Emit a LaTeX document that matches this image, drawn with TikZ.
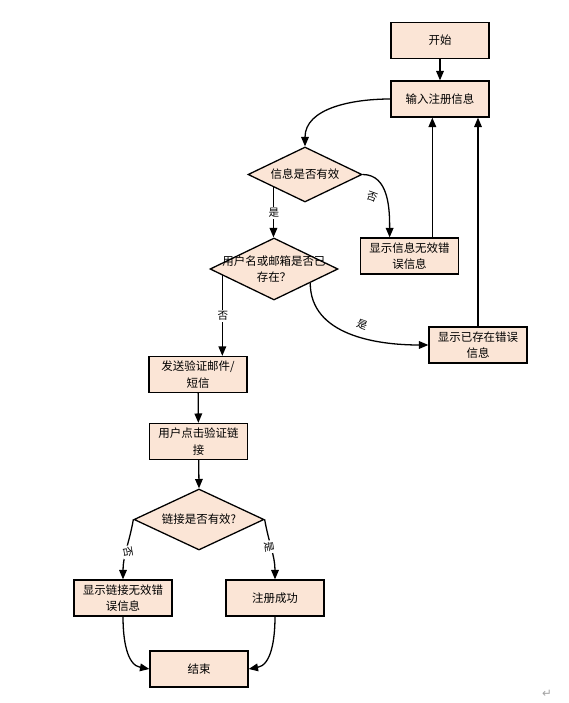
\documentclass[tikz,border=0pt]{standalone}
\usepackage{fontspec}
\setmainfont{Noto Sans CJK SC}
\newfontfamily\symfont{DejaVu Sans}
\usepackage{tikz}
\usetikzlibrary{arrows.meta,positioning,shapes.geometric,calc}
\definecolor{peach}{HTML}{FBE5D6}
\definecolor{bk50}{HTML}{A2A2A2}
\tikzset{
  stepbox/.style={
    rectangle, draw=black, fill=peach, line width=1.1pt,
    minimum width=2.94cm, minimum height=1.08cm,
    font=\fontsize{9.8}{14}\selectfont, align=center,
    inner sep=2pt
  },
  decision/.style={
    diamond, draw=black, fill=peach, line width=1.1pt,
    inner sep=0pt
  },
  steptext/.style={
    font=\fontsize{9.8}{14}\selectfont, align=center, inner sep=0pt
  },
  flowarrow/.style={
    -{Triangle[length=8pt,width=6.5pt]}, line width=1.1pt, color=black
  },
  branchlabel/.style={
    font=\fontsize{9}{11}\selectfont, fill=white, inner sep=1pt
  },
}
\begin{document}
\begin{tikzpicture}[x=0.03cm, y=0.03cm]
\useasboundingbox (0,0) rectangle (569,-703);

\node[stepbox] (start) at (440,-40.5) {开始};
\node[stepbox] (input) at (440,-99) {输入注册信息};
\node[decision, minimum width=3.42cm, minimum height=1.65cm] (valid) at (305,-174.5) {};
\node[steptext] (validt) at (valid) {信息是否有效};
\node[stepbox] (invalid) at (409.5,-256) {显示信息无效错\\误信息};
\node[decision, minimum width=3.84cm, minimum height=1.86cm] (exists) at (274,-269) {};
\node[steptext] (existst) at (exists) {用户名或邮箱是否已\\存在？};
\node[stepbox] (dupmsg) at (478,-345) {显示已存在错误\\信息};
\node[stepbox] (send) at (198,-374.5) {发送验证邮件/\\短信};
\node[stepbox] (click) at (198.5,-441.5) {用户点击验证链\\接};
\node[decision, minimum width=3.9cm, minimum height=1.83cm] (linkok) at (199,-519.5) {};
\node[steptext] (linkokt) at (linkok) {链接是否有效?};
\node[stepbox] (badlink) at (123,-598) {显示链接无效错\\误信息};
\node[stepbox] (success) at (275,-598) {注册成功};
\node[stepbox] (finish) at (199,-669) {结束};

% top part
\draw[flowarrow] (start) -- (input);
\draw[flowarrow] (input.west) to[out=180,in=90] (valid.north);
\draw[flowarrow] (valid.east) to[out=0,in=90]
  ($(invalid.north west)!0.3!(invalid.north east)$);
\draw[flowarrow] ($(invalid.north west)!0.73!(invalid.north east)$) coordinate (backone)
  -- (backone |- input.south);
\draw[flowarrow] (dupmsg.north) -- (dupmsg.north |- input.south);
\draw[flowarrow] (valid.202) -- (valid.202 |- exists.north);
\draw[flowarrow] (exists.187) -- (exists.187 |- send.north);
\draw[flowarrow] (exists.339) to[out=-90,in=180] (dupmsg.west);

% lower part
\draw[flowarrow] (send) -- (click);
\draw[flowarrow] (click) -- (linkok.north);
\draw[flowarrow] (linkok.west) to[out=-100,in=90] (badlink.north);
\draw[flowarrow] (linkok.east) to[out=-80,in=90] (success.north);
\draw[flowarrow] (badlink.south) to[out=-90,in=170] (finish.west);
\draw[flowarrow] (success.south) to[out=-90,in=10] (finish.east);

% branch labels
\node[branchlabel, rotate=-20] (nolbl1) at (372,-197) {否};
\node[branchlabel] (yeslbl1) at (274,-213) {是};
\node[branchlabel] (nolbl2) at (223,-316) {否};
\node[branchlabel, rotate=-20] (yeslbl2) at (362,-325) {是};
\node[branchlabel, rotate=-80] (nolbl3) at (128,-552) {否};
\node[branchlabel, rotate=-80] (yeslbl3) at (269,-547) {是};

\node[text=bk50, font=\symfont\fontsize{10}{12}\selectfont] (retmark) at (547,-694) {↵};
\end{tikzpicture}
\end{document}
